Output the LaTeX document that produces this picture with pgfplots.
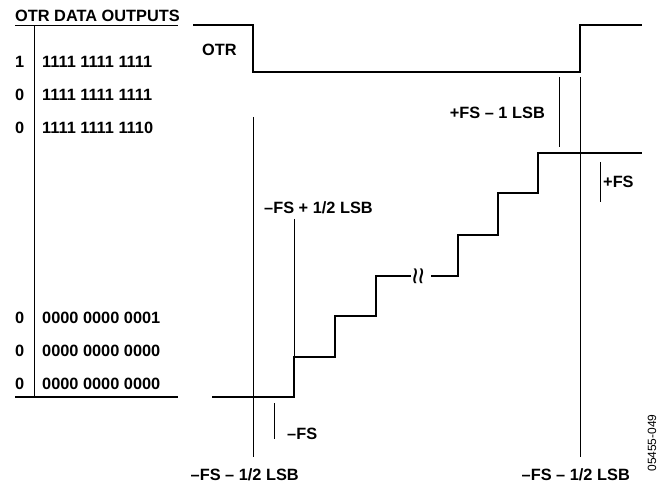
\documentclass[border=0pt]{standalone}
\usepackage{fontspec}
\setmainfont{Liberation Sans}
\usepackage{pgfplots}
\pgfplotsset{compat=1.18}
\tikzset{
  thk/.style={line width=2.9bp},
  thn/.style={line width=1bp},
  lbl/.style={inner sep=0pt,font=\fontsize{16.4}{19}\selectfont\bfseries}}
\begin{document}
\begin{tikzpicture}
\begin{axis}[x=1bp,y=1bp,y dir=reverse,xmin=0,xmax=660,ymin=0,ymax=485,
  hide axis,clip=false,
  every axis plot/.append style={black,no markers,line join=miter}]
\addplot[draw=none] coordinates {(0,0) (660,485)};
% table
\addplot[line width=1.4bp] coordinates {(15,25.5) (178,25.5)};
\addplot[line width=1.4bp] coordinates {(34.5,26) (34.5,397)};
\addplot[line width=1.4bp] coordinates {(15,397) (178,397)};
% OTR trace
\addplot[thk] coordinates {(193,25) (253,25) (253,72) (580,72) (580,25) (642,25)};
% staircase
\addplot[thk] coordinates {(212,397) (294,397) (294,357) (335,357) (335,316) (376,316) (376,276) (458,276) (458,235) (498,235) (498,193) (538,193) (538,153) (642,153)};
% thin markers
\addplot[thn] coordinates {(253,117) (253,457)};
\addplot[thn] coordinates {(580,77) (580,457)};
\addplot[thn] coordinates {(559,77) (559,147)};
\addplot[thn] coordinates {(600,162) (600,202)};
\addplot[thn] coordinates {(294,219) (294,357)};
\addplot[thn] coordinates {(274,403) (274,439)};
% break symbol
\node[fill=white,inner xsep=0.5pt,inner ysep=3pt,rotate=90,font=\fontsize{30}{30}\selectfont] at (axis cs:421,276) {≈};
% texts
\node[lbl,anchor=west] at (axis cs:15,16) {OTR DATA OUTPUTS};
\node[lbl,anchor=west] at (axis cs:15,62) {1};
\node[lbl,anchor=west] at (axis cs:15,95) {0};
\node[lbl,anchor=west] at (axis cs:15,128) {0};
\node[lbl,anchor=west] at (axis cs:15,318) {0};
\node[lbl,anchor=west] at (axis cs:15,351) {0};
\node[lbl,anchor=west] at (axis cs:15,384) {0};
\node[lbl,anchor=west] at (axis cs:42,62) {1111 1111 1111};
\node[lbl,anchor=west] at (axis cs:42,95) {1111 1111 1111};
\node[lbl,anchor=west] at (axis cs:42,128) {1111 1111 1110};
\node[lbl,anchor=west] at (axis cs:42,318) {0000 0000 0001};
\node[lbl,anchor=west] at (axis cs:42,351) {0000 0000 0000};
\node[lbl,anchor=west] at (axis cs:42,384) {0000 0000 0000};
\node[lbl,anchor=west] at (axis cs:202,50) {OTR};
\node[lbl,anchor=east] at (axis cs:545,113) {+FS – 1 LSB};
\node[lbl,anchor=west] at (axis cs:603,182) {+FS};
\node[lbl,anchor=west] at (axis cs:264,208) {–FS + 1/2 LSB};
\node[lbl,anchor=west] at (axis cs:287,434) {–FS};
\node[lbl,anchor=east] at (axis cs:299,475) {–FS – 1/2 LSB};
\node[lbl,anchor=east] at (axis cs:630,475) {–FS – 1/2 LSB};
\node[inner sep=0pt,rotate=90,font=\fontsize{12}{13}\selectfont] at (axis cs:652,443) {05455-049};
\end{axis}
\end{tikzpicture}
\end{document}
